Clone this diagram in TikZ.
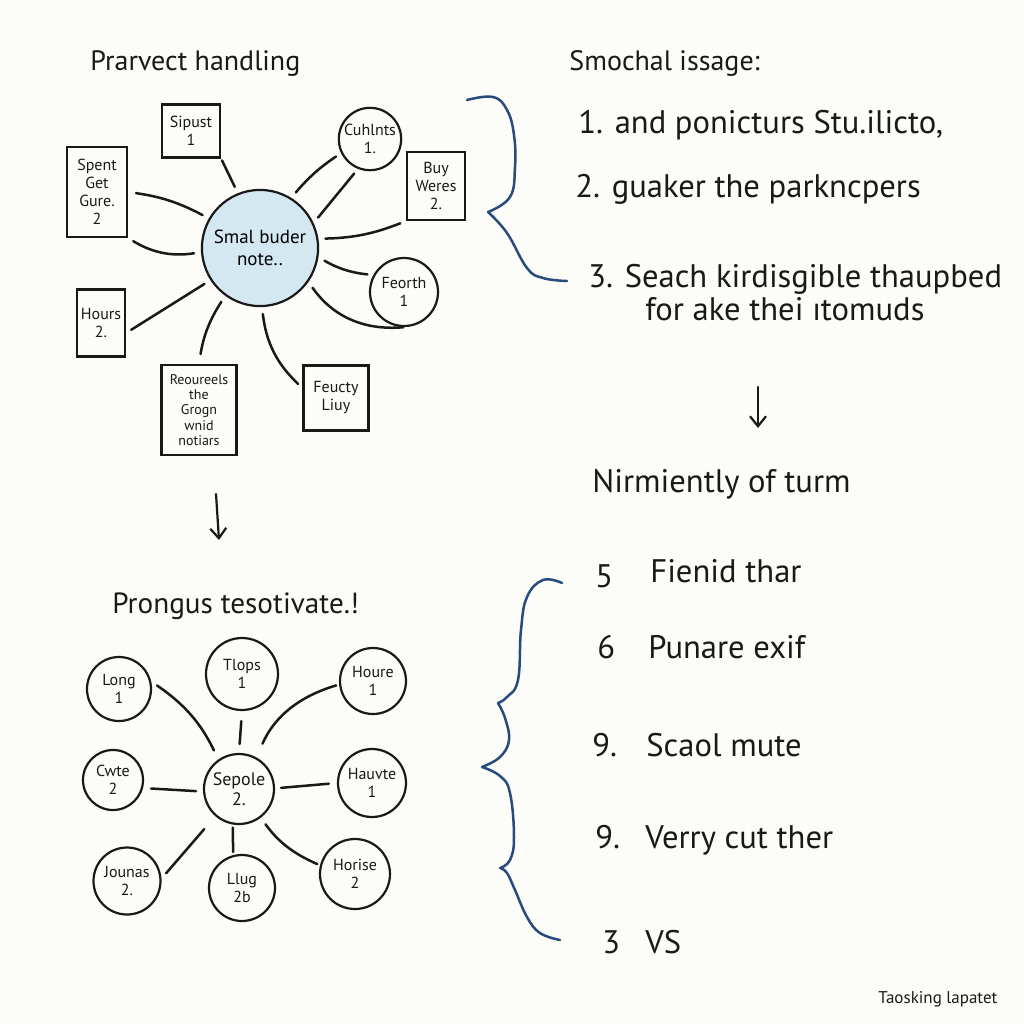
\documentclass[tikz,border=0pt]{standalone}
\usepackage{fontspec}
\setmainfont{PT Sans}
\usetikzlibrary{arrows.meta}
\definecolor{paper}{RGB}{252,252,248}
\definecolor{ink}{RGB}{25,25,25}
\definecolor{pen}{RGB}{40,75,125}
\definecolor{wash}{RGB}{212,232,242}
\begin{document}
\begin{tikzpicture}[x=0.5pt, y=0.5pt,
    box/.style={rectangle, draw=ink, line width=1.1pt, inner sep=1pt, align=center, text=ink, font=\fontsize{8}{9}\selectfont},
    bubble/.style={circle, draw=ink, line width=1.1pt, inner sep=0.5pt, align=center, text=ink, font=\fontsize{8}{9}\selectfont},
    link/.style={ink, line width=1.25pt, line cap=round, shorten <=3pt, shorten >=3.5pt},
    brace/.style={pen, line width=1.25pt, line cap=round, line join=round},
    head/.style={anchor=base west, inner sep=0pt, text=ink, font=\fontsize{14}{17}\selectfont},
    big/.style={anchor=base west, inner sep=0pt, text=ink, font=\fontsize{16.3}{19}\selectfont},
    down/.style={ink, line width=1.1pt, line cap=round, -{Straight Barb[length=5pt, width=8pt]}}]

    \fill[paper] (0,0) rectangle (1024,-1024);
    \useasboundingbox (0,0) rectangle (1024,-1024);

    % titles
    \node [head] (t1) at (90,-70) {Prarvect handling};
    \node [head] (t2) at (569,-70) {Smochal issage:};
    \node [head, font=\fontsize{14.6}{17}\selectfont] (t3) at (112,-613) {Prongus tesotivate.!};

    % upper mind map
    \node [circle, draw=ink, line width=1.1pt, fill=wash, minimum size=54pt, align=center, font=\fontsize{9.5}{11}\selectfont] (hub) at (260,-248) {Smal buder\\note..};
    \node [box, minimum width=29pt, minimum height=26.5pt] (sip) at (191,-131) {Sipust\\1};
    \node [box, minimum width=30pt, minimum height=45pt] (spent) at (97,-192) {Spent\\Get\\Gure.\\2};
    \node [bubble, minimum size=31pt] (cuh) at (370,-139) {Cuhlnts\\1.};
    \node [box, minimum width=29pt, minimum height=34pt] (buy) at (436,-186) {Buy\\Weres\\2.};
    \node [bubble, minimum size=34pt] (feo) at (404,-292) {Feorth\\1};
    \node [box, minimum width=32.5pt, minimum height=32.5pt] (feu) at (336,-398) {Feucty\\Liuy};
    \node [box, minimum width=37.5pt, minimum height=45pt, font=\fontsize{7}{7.6}\selectfont] (reo) at (199,-410) {Reoureels\\the\\Grogn\\wnid\\notiars};
    \node [box, minimum width=24pt, minimum height=33.5pt] (hou) at (101,-323) {Hours\\2.};

    \path[link]
        (sip.south east) edge[shorten <=1pt] (hub.112)
        (spent.east) edge[bend left=10, shorten <=4pt] (hub.150)
        (spent.south east) edge[bend right=20] (hub.184)
        (cuh.206) edge[bend right=8] (hub.58)
        (cuh.248) edge (hub.25)
        (buy.south west) edge[bend left=10] (hub.9)
        (feo.151) edge[bend left=12] (hub.-9)
        (feo.272) edge[bend left=30, shorten <=1pt] (hub.-35)
        ([yshift=5pt]feu.west) edge[bend left=20] (hub.-88)
        (reo.north) edge[bend left=12, shorten <=5pt] (hub.-126)
        ([yshift=-5pt]hou.east) edge (hub.-147);

    \coordinate (a1s) at (216,-494);
    \coordinate (a1e) at (219,-540);
    \draw[down] (a1s) -- (a1e);

    % lower mind map
    \node [bubble, minimum size=35pt, font=\fontsize{9}{10}\selectfont] (sep) at (239,-789) {Sepole\\2.};
    \node [bubble, minimum size=36pt] (tlo) at (242,-674) {Tlops\\1};
    \node [bubble, minimum size=32pt] (lon) at (119,-689) {Long\\1};
    \node [bubble, minimum size=33pt] (hre) at (373,-681) {Houre\\1};
    \node [bubble, minimum size=30pt] (cwt) at (113,-780) {Cwte\\2};
    \node [bubble, minimum size=34pt] (hau) at (372,-783) {Hauvte\\1};
    \node [bubble, minimum size=33.5pt] (jou) at (127,-881) {Jounas\\2.};
    \node [bubble, minimum size=33pt] (llu) at (242,-888) {Llug\\2b};
    \node [bubble, minimum size=35pt] (hor) at (355,-874) {Horise\\2};

    \path[link]
        (lon.13) edge[bend left=15, shorten <=3.5pt, shorten >=5pt] (sep.125)
        (tlo.south) edge[shorten <=5pt, shorten >=4.5pt] (sep.north)
        (hre.186) edge[bend right=25, shorten <=1.5pt, shorten >=7.5pt] (sep.61)
        (cwt.-15) edge[shorten <=4pt] (sep.184)
        (hau.west) edge[shorten <=4pt, shorten >=3pt] (sep.1)
        (jou.4) edge[shorten <=3.5pt, shorten >=8.5pt] (sep.-131)
        (llu.105) edge[shorten <=1.5pt, shorten >=1.5pt] (sep.-100)
        (hor.166) edge[bend left=15, shorten <=1.5pt, shorten >=4pt] (sep.-53);

    % right column
    \node [big] (l1) at (578,-133) {1. and ponicturs Stu.ilicto,};
    \node [big] (l2) at (575,-197) {2. guaker the parkncpers};
    \node [big] (l3) at (588,-287) {3. Seach kirdisgible thaupbed};
    \node [big] (l3b) at (645,-320) {for ake thei ıtomuds};

    \draw[brace] plot[smooth, tension=0.7] coordinates {(467,-100) (493,-97) (507,-110) (514,-135) (515,-167) (510,-197) (488,-212)}
        plot[smooth, tension=0.7] coordinates {(488,-212) (507,-233) (527,-268) (543,-278) (567,-281)};

    \coordinate (a2s) at (758,-387);
    \coordinate (a2e) at (758,-428);
    \draw[down] (a2s) -- (a2e);

    \node [big] (mid) at (592,-492) {Nirmiently of turm};

    \node [big] (n5) at (595,-587) {5};
    \node [big] (i5) at (650,-582) {Fienid thar};
    \node [big] (n6) at (597,-658) {6};
    \node [big] (i6) at (648,-658) {Punare exif};
    \node [big] (n9a) at (592,-756) {9.};
    \node [big] (i9a) at (646,-756) {Scaol mute};
    \node [big] (n9b) at (595,-848) {9.};
    \node [big] (i9b) at (645,-848) {Verry cut ther};
    \node [big] (n3) at (602,-953) {3};
    \node [big] (i3) at (645,-953) {VS};

    \draw[brace] plot[smooth, tension=0.7] coordinates {(562,-583) (543,-580) (527,-597) (521,-630) (518,-680) (507,-697) (498,-703)}
        plot[smooth, tension=0.7] coordinates {(498,-703) (505,-718) (509,-740) (500,-757) (482,-767)}
        plot[smooth, tension=0.7] coordinates {(482,-767) (500,-776) (510,-793) (514,-837) (510,-860) (500,-868)}
        plot[smooth, tension=0.7] coordinates {(500,-868) (507,-873) (515,-890) (527,-917) (540,-933) (560,-940)};

    \node [anchor=base west, inner sep=0pt, text=ink, font=\fontsize{8.5}{10}\selectfont] (foot) at (878,-1003) {Taosking lapatet};
\end{tikzpicture}
\end{document}
